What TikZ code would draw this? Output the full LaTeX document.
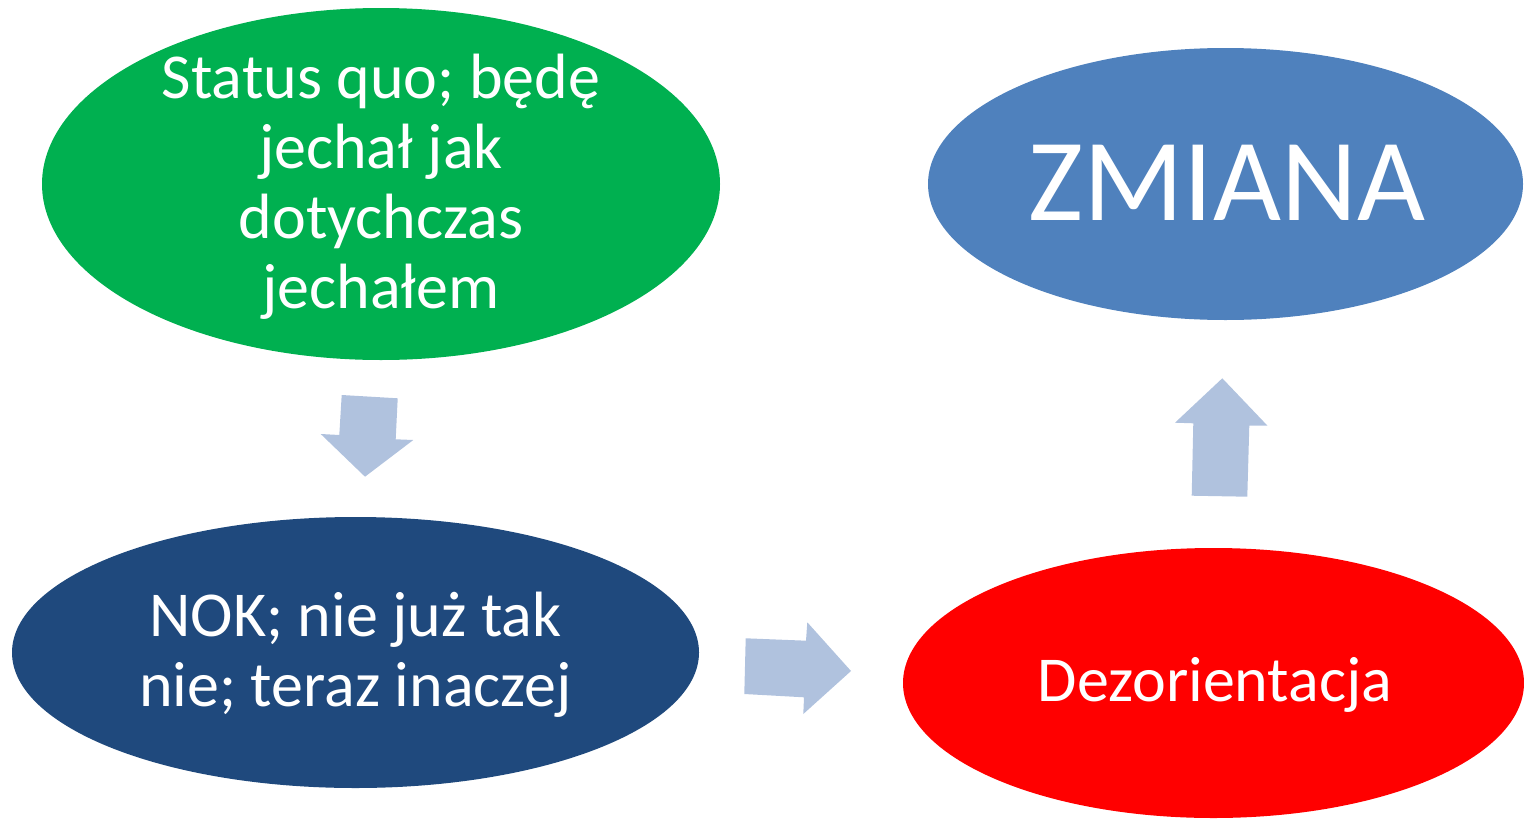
\documentclass[tikz,border=0pt]{standalone}
\usepackage{fontspec}
\setmainfont{Carlito}
\definecolor{cgreen}{HTML}{00B050}
\definecolor{cblue}{HTML}{4F81BD}
\definecolor{cdark}{HTML}{1F497D}
\definecolor{cred}{HTML}{FF0000}
\definecolor{carrow}{HTML}{B0C2DE}
\begin{document}
\begin{tikzpicture}[x=0.01cm,y=-0.01cm,
  blob/.style={ellipse, inner sep=0pt, text=white, align=center},
  blockarrow/.style={fill=carrow, draw=none}]
\useasboundingbox (0,0) rectangle (1524,818);
\begin{scope}
\clip (0,0) rectangle (1524,818);
\fill[cgreen] (381,184) ellipse [x radius=339, y radius=176];
\fill[cblue] (1225.5,184) ellipse [x radius=297.5, y radius=136];
\fill[cdark] (355.5,652.5) ellipse [x radius=343.5, y radius=135.5];
\fill[cred] (1213.5,683) ellipse [x radius=310.5, y radius=135];
\end{scope}
\node[text=white, align=center, font=\fontsize{18.2}{19.9}\selectfont] (sq) at (381,187) {Status quo; będę\\jechał jak\\dotychczas\\jechałem};
\node[text=white, font=\fontsize{33.4}{40}\selectfont] (zm) at (1226.5,183) {ZMIANA};
\node[text=white, align=center, font=\fontsize{18.2}{19.9}\selectfont] (nok) at (355.5,655) {NOK; nie już tak\\nie; teraz inaczej};
\node[text=white, font=\fontsize{18.2}{19.9}\selectfont] (dez) at (1215,685) {Dezorientacja};
% block arrows
\fill[blockarrow] (341.7,395) -- (397.7,398.3) -- (395.7,439.3) -- (413.3,440) -- (365,476.7) -- (320.7,434) -- (339.3,435) -- cycle;
\fill[blockarrow] (745.7,638.3) -- (806,640.7) -- (807.3,622.3) -- (851,671) -- (803.3,714) -- (804,697.3) -- (744.3,694) -- cycle;
\fill[blockarrow] (1222.3,378.3) -- (1267.3,425.5) -- (1249.3,425.5) -- (1247.3,496.7) -- (1191.7,495.7) -- (1193.3,423.3) -- (1175,422.7) -- cycle;
\end{tikzpicture}
\end{document}
